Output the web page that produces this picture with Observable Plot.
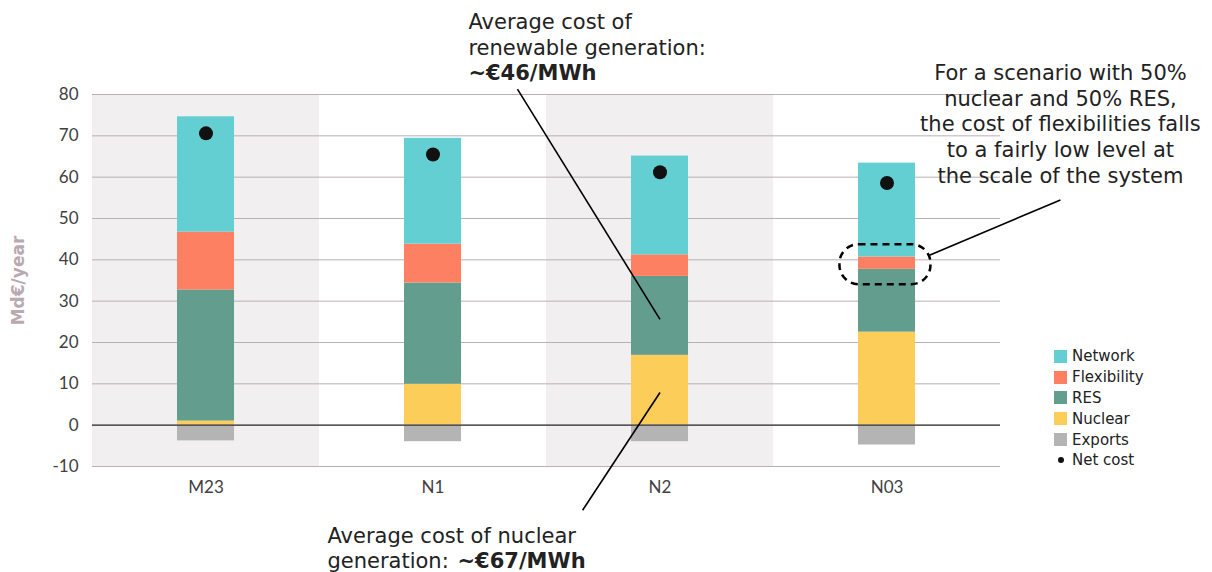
<!DOCTYPE html>
<html>
<head>
<meta charset="utf-8">
<script src="https://cdn.jsdelivr.net/npm/d3@7"></script>
<script src="https://cdn.jsdelivr.net/npm/@observablehq/plot@0.6"></script>
<style>
  body { margin: 0; background: #fff; }
  #wrap { position: relative; width: 1212px; height: 572px; }
  #legend { position: absolute; left: 1054px; top: 346px; font-family: "DejaVu Sans", Verdana, sans-serif; font-size: 15px; color: #222; }
  #legend .row { height: 20.8px; display: flex; align-items: center; }
  #legend .sw { width: 13px; height: 13px; margin-right: 5px; }
  #legend .dot { width: 6px; height: 6px; border-radius: 50%; background: #111; margin: 0 8px 0 4px; }
</style>
</head>
<body>
<div id="wrap"><div id="legend"></div></div>
<script>
// ---- data ----
const scenarios = ["M23", "N1", "N2", "N03"];
const nuclear = [1.0, 9.9, 16.9, 22.5];
const res = [31.7, 24.5, 19.1, 15.2];
const flexibility = [14.0, 9.4, 5.2, 3.0];
const network = [27.9, 25.6, 23.9, 22.7];
const exportsV = [-3.8, -4.0, -4.0, -4.8];
const netCost = [70.6, 65.5, 61.2, 58.6];
const yTicks = [-10, 0, 10, 20, 30, 40, 50, 60, 70, 80];
const shaded = ["M23", "N2"];
const components = ["Nuclear", "RES", "Flexibility", "Network"];
const colors = {Network: "#63cfd2", Flexibility: "#fe8062", RES: "#629d8d", Nuclear: "#fccd59", Exports: "#b4b4b4"};
const legendOrder = ["Network", "Flexibility", "RES", "Nuclear", "Exports"];

// annotations (data coordinates: x in scenario index units, y in Md€/year)
const annoLeft = [
  {x: 1.656, y: 99.4, text: "Average cost of"},
  {x: 1.656, y: 93.2, text: "renewable generation:"},
  {x: 1.035, y: -24.9, text: "Average cost of nuclear"},
  {x: 1.035, y: -31.0, text: "generation:"}
];
const annoBold = [
  {x: 1.656, y: 87.0, text: "~€46/MWh"},
  {x: 1.608, y: -31.0, text: "~€67/MWh"}
];
const annoCenter = [
  {x: 4.264, y: 87.1, text: "For a scenario with 50%"},
  {x: 4.264, y: 80.9, text: "nuclear and 50% RES,"},
  {x: 4.264, y: 74.7, text: "the cost of flexibilities falls"},
  {x: 4.264, y: 68.5, text: "to a fairly low level at"},
  {x: 4.264, y: 62.3, text: "the scale of the system"}
];
const annoLines = [
  {x1: 1.872, y1: 81.3, x2: 2.5, y2: 25.6},
  {x1: 2.159, y1: -20.6, x2: 2.5, y2: 7.9},
  {x1: 4.264, y1: 54.5, x2: 3.687, y2: 41.1}
];
const annoEllipse = [{x: 3.491, y: 38.95}];

// ---- derived tables ----
const BAR_HALF = 0.1256;
const segments = [];
scenarios.forEach((s, i) => {
  const vals = {Nuclear: nuclear[i], RES: res[i], Flexibility: flexibility[i], Network: network[i]};
  let acc = 0;
  for (const c of components) {
    segments.push({i, scenario: s, comp: c, y1: acc, y2: acc + vals[c]});
    acc += vals[c];
  }
  segments.push({i, scenario: s, comp: "Exports", y1: 0, y2: exportsV[i]});
});
const bands = scenarios.map((s, i) => ({i, s})).filter(d => shaded.includes(d.s));
const dots = scenarios.map((s, i) => ({i, v: netCost[i]}));

const roundedRect = {
  draw(ctx) {
    const w = 91, h = 40, r = 19;
    const x0 = -w / 2, y0 = -h / 2, x1 = w / 2, y1 = h / 2;
    ctx.moveTo(x0 + r, y0);
    ctx.lineTo(x1 - r, y0);
    ctx.arcTo(x1, y0, x1, y0 + r, r);
    ctx.lineTo(x1, y1 - r);
    ctx.arcTo(x1, y1, x1 - r, y1, r);
    ctx.lineTo(x0 + r, y1);
    ctx.arcTo(x0, y1, x0, y1 - r, r);
    ctx.lineTo(x0, y0 + r);
    ctx.arcTo(x0, y0, x0 + r, y0, r);
    ctx.closePath();
  }
};

const font = "DejaVu Sans, Verdana, sans-serif";
const textOpts = {x: "x", y: "y", text: "text", lineAnchor: "top", fontFamily: font, fontSize: 21, fill: "#222"};

const chart = Plot.plot({
  width: 1212,
  height: 572,
  marginLeft: 92,
  marginRight: 212,
  marginTop: 94,
  marginBottom: 106,
  style: {fontFamily: "Lato, sans-serif", fontSize: "17px", color: "#404040", background: "transparent"},
  x: {type: "linear", domain: [0, scenarios.length]},
  y: {domain: [-10, 80]},
  marks: [
    Plot.rectY(bands, {x1: d => d.i, x2: d => d.i + 1, y1: -10, y2: 80, fill: "#f1eff0"}),
    Plot.ruleY(yTicks, {stroke: "#bcaeb5", strokeWidth: 1}),
    Plot.rectY(segments, {x1: d => d.i + 0.5 - BAR_HALF, x2: d => d.i + 0.5 + BAR_HALF, y1: "y1", y2: "y2", fill: d => colors[d.comp]}),
    Plot.ruleY([0], {stroke: "#333", strokeWidth: 1.3}),
    Plot.dot(dots, {x: d => d.i + 0.5, y: "v", r: 7, fill: "#111", stroke: "none"}),
    Plot.axisY({ticks: yTicks, tickFormat: d => String(d), tickSize: 0, tickPadding: 14, label: null, fontSize: 17}),
    Plot.axisX({ticks: scenarios.map((s, i) => i + 0.5), tickFormat: v => scenarios[Math.floor(v)], tickSize: 0, tickPadding: 14, label: null, fontSize: 17}),
    Plot.link(annoLines, {x1: "x1", y1: "y1", x2: "x2", y2: "y2", stroke: "#000", strokeWidth: 1.6}),
    Plot.dot(annoEllipse, {x: "x", y: "y", symbol: roundedRect, fill: "none", stroke: "#000", strokeWidth: 2.5, strokeDasharray: "7,5"}),
    Plot.text(annoLeft, {...textOpts, textAnchor: "start"}),
    Plot.text(annoBold, {...textOpts, textAnchor: "start", fontWeight: "bold"}),
    Plot.text(annoCenter, {...textOpts, textAnchor: "middle"}),
    Plot.text(["Md€/year"], {frameAnchor: "left", textAnchor: "middle", dx: -74, rotate: -90, fontWeight: "bold", fill: "#b9a9b1", fontSize: 17, fontFamily: font})
  ]
});
document.getElementById("wrap").prepend(chart);

const legend = document.getElementById("legend");
for (const k of legendOrder) {
  const row = document.createElement("div");
  row.className = "row";
  row.innerHTML = `<div class="sw" style="background:${colors[k]}"></div><span>${k}</span>`;
  legend.appendChild(row);
}
const nrow = document.createElement("div");
nrow.className = "row";
nrow.innerHTML = `<div class="dot"></div><span>Net cost</span>`;
legend.appendChild(nrow);
</script>
</body>
</html>
